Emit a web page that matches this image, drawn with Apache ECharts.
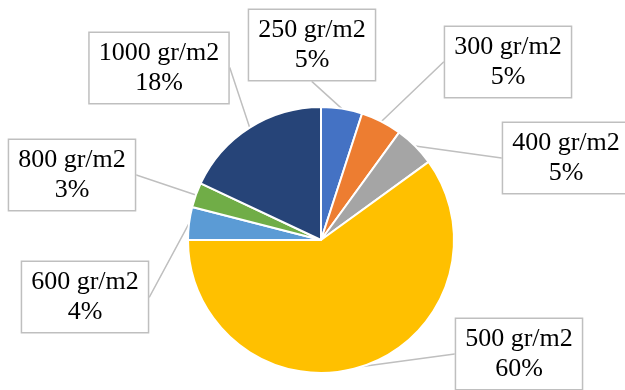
<!DOCTYPE html>
<html>
<head>
<meta charset="utf-8">
<script src="https://cdn.jsdelivr.net/npm/echarts@6/dist/echarts.min.js"></script>
<style>
  html, body { margin: 0; padding: 0; background: #fff; }
  #chart { width: 625px; height: 390px; }
</style>
</head>
<body>
<div id="chart"></div>
<script>
const categories = ["250 gr/m2", "300 gr/m2", "400 gr/m2", "500 gr/m2", "600 gr/m2", "800 gr/m2", "1000 gr/m2"];
const shares = [5, 5, 5, 60, 4, 3, 18];
const colors = ["#4472C4", "#ED7D31", "#A5A5A5", "#FFC000", "#5B9BD5", "#70AD47", "#264478"];
// callout box centres
const boxCentres = [[312, 45], [508, 62], [566, 158], [519, 354], [85, 297], [72, 175], [159, 68]];

const chart = echarts.init(document.getElementById("chart"), null, { renderer: "canvas" });
chart.setOption({
  animation: false,
  series: [{
    type: "pie",
    center: [321, 240],
    radius: 133,
    startAngle: 90,
    clockwise: true,
    itemStyle: { borderColor: "#fff", borderWidth: 2 },
    data: categories.map((name, i) => ({ name, value: shares[i], itemStyle: { color: colors[i] } })),
    label: {
      show: true,
      position: "outside",
      formatter: "{b}\n{c}%",
      fontFamily: "Liberation Serif",
      fontSize: 26,
      lineHeight: 30,
      color: "#000",
      align: "center",
      backgroundColor: "#fff",
      borderColor: "#bfbfbf",
      borderWidth: 1.5,
      padding: [5, 9]
    },
    labelLine: { show: true, length: 0.1, length2: 0.1, lineStyle: { color: "#bfbfbf", width: 1.5 } },
    labelLayout: params => ({
      x: boxCentres[params.dataIndex][0],
      y: boxCentres[params.dataIndex][1],
      align: "center",
      verticalAlign: "middle"
    })
  }]
});
</script>
</body>
</html>
